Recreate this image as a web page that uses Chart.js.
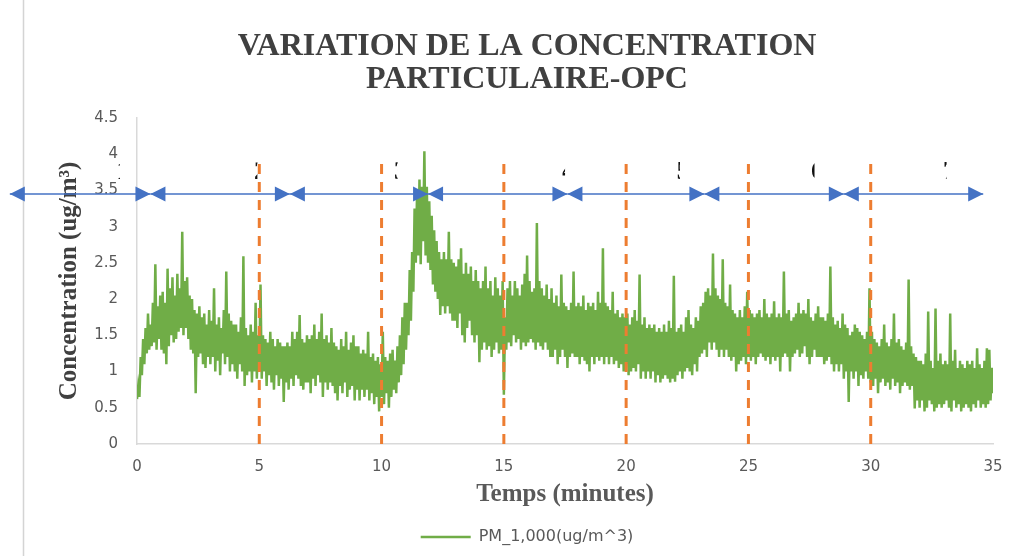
<!DOCTYPE html>
<html>
<head>
<meta charset="utf-8">
<script src="https://cdn.jsdelivr.net/npm/chart.js@4"></script>
<style>
  html, body { margin: 0; padding: 0; background: #fff; }
</style>
</head>
<body>
<canvas id="pmChart" width="1019" height="556"></canvas>
<script>
const sampleStep = 0.05;
const pm1 = [
  0.62, 0.8, 0.65, 1.2, 0.95, 1.45, 1.1, 1.6, 1.25, 1.8, 1.3, 1.65, 1.35, 1.95, 1.4, 2.48, 1.3, 1.9, 1.45, 2.05,
  1.3, 2.1, 1.25, 1.95, 1.1, 2.42, 1.35, 2.15, 1.5, 2.3, 1.4, 2.05, 1.45, 2.35, 1.55, 2.15, 1.6, 2.93, 1.5, 2.25,
  1.6, 2.3, 1.45, 2.05, 1.3, 2.0, 1.25, 1.85, 0.7, 1.8, 1.2, 1.9, 1.25, 1.75, 1.1, 1.8, 1.05, 1.65, 1.2, 1.85,
  1.1, 1.7, 1.2, 2.15, 1.0, 1.65, 1.15, 1.75, 0.95, 1.6, 1.25, 1.85, 1.1, 2.38, 1.2, 1.8, 1.0, 1.7, 1.1, 1.65,
  1.0, 1.65, 0.9, 1.55, 1.1, 1.75, 1.0, 2.59, 0.8, 1.6, 0.95, 1.5, 1.0, 1.65, 0.85, 1.55, 1.0, 1.95, 0.9, 1.5,
  1.0, 2.2, 0.9, 1.5, 1.0, 1.45, 0.8, 1.4, 0.95, 1.55, 0.85, 1.45, 0.75, 1.35, 0.95, 1.45, 0.8, 1.4, 0.9, 1.35,
  0.58, 1.35, 0.85, 1.4, 0.75, 1.35, 0.9, 1.55, 0.8, 1.45, 0.95, 1.55, 0.9, 1.78, 0.8, 1.45, 0.75, 1.4, 0.85, 1.5,
  0.85, 1.45, 0.7, 1.5, 0.9, 1.65, 0.8, 1.45, 0.95, 1.55, 0.85, 1.8, 0.65, 1.45, 0.85, 1.5, 0.75, 1.4, 0.85, 1.6,
  0.8, 1.4, 0.7, 1.35, 0.6, 1.3, 0.8, 1.45, 0.7, 1.35, 0.85, 1.55, 0.65, 1.3, 0.75, 1.4, 0.8, 1.5, 0.6, 1.35,
  0.75, 1.35, 0.6, 1.25, 0.75, 1.3, 0.65, 1.25, 0.75, 1.55, 0.6, 1.2, 0.7, 1.25, 0.55, 1.15, 0.65, 1.2, 0.45, 1.1,
  0.65, 1.55, 0.55, 1.2, 0.7, 1.15, 0.5, 1.25, 0.65, 1.3, 0.75, 1.15, 0.7, 1.35, 0.85, 1.5, 0.95, 1.75, 1.1, 1.95,
  1.3, 1.95, 1.5, 2.4, 1.7, 2.65, 2.1, 3.25, 2.5, 3.45, 2.6, 3.65, 2.48, 3.55, 2.8, 4.04, 2.6, 3.55, 2.5, 3.35,
  2.4, 3.15, 2.2, 2.95, 2.1, 2.8, 2.0, 2.65, 1.78, 2.55, 1.9, 2.65, 1.8, 2.55, 1.9, 2.93, 1.8, 2.55, 1.7, 2.5,
  1.7, 2.45, 1.6, 2.55, 1.8, 2.7, 1.5, 2.35, 1.4, 2.5, 1.6, 2.35, 1.7, 2.45, 1.5, 2.25, 1.4, 2.4, 1.5, 2.25,
  1.13, 2.15, 1.3, 2.25, 1.4, 2.45, 1.3, 2.15, 1.35, 2.25, 1.2, 2.05, 1.3, 2.3, 1.4, 2.15, 1.25, 2.05, 1.3, 2.25,
  0.68, 1.75, 1.3, 2.15, 1.4, 2.25, 1.35, 2.05, 1.5, 2.25, 1.4, 2.15, 1.45, 2.05, 1.3, 2.2, 1.4, 2.35, 1.35, 2.6,
  1.4, 2.25, 1.45, 2.1, 1.4, 2.15, 1.3, 3.05, 1.4, 2.25, 1.35, 2.15, 1.3, 2.05, 1.4, 2.2, 1.3, 2.0, 1.2, 2.15,
  1.2, 1.95, 1.3, 2.05, 1.1, 1.9, 1.2, 2.34, 1.3, 1.95, 1.2, 1.9, 1.05, 1.85, 1.2, 1.95, 1.25, 2.38, 1.2, 1.9,
  1.2, 1.95, 1.1, 1.9, 1.2, 2.05, 1.15, 1.85, 1.1, 1.95, 1.0, 1.9, 1.2, 1.95, 1.1, 1.85, 1.2, 2.1, 1.15, 1.95,
  1.2, 2.7, 1.1, 1.95, 1.2, 1.9, 1.1, 1.85, 1.2, 2.1, 1.1, 1.8, 1.15, 1.85, 1.05, 1.75, 1.1, 1.8, 1.0, 1.75,
  1.1, 1.8, 0.95, 1.65, 1.0, 1.75, 1.05, 1.85, 1.0, 1.7, 1.1, 2.34, 0.9, 1.65, 1.0, 1.75, 0.9, 1.6, 1.0, 1.65,
  0.9, 1.6, 1.0, 1.65, 0.85, 1.55, 0.95, 1.6, 0.85, 1.55, 0.9, 1.65, 0.95, 1.55, 0.9, 1.7, 0.85, 1.6, 0.9, 2.32,
  0.86, 1.55, 0.95, 1.6, 1.0, 1.65, 0.9, 1.55, 1.0, 1.75, 1.05, 1.85, 1.0, 1.65, 0.95, 1.6, 1.1, 1.75, 1.0, 1.7,
  1.2, 1.9, 1.25, 1.95, 1.3, 2.1, 1.2, 2.15, 1.4, 2.05, 1.3, 2.63, 1.4, 2.15, 1.3, 2.05, 1.2, 2.0, 1.3, 2.55,
  1.2, 1.95, 1.3, 1.9, 1.2, 2.2, 1.15, 1.85, 1.2, 1.8, 1.0, 1.75, 1.1, 1.85, 1.15, 1.75, 1.2, 1.9, 1.1, 2.1,
  1.2, 1.85, 1.15, 1.8, 1.2, 1.75, 1.1, 1.8, 1.2, 1.85, 1.25, 1.75, 1.2, 2.0, 1.15, 1.8, 1.2, 1.75, 1.1, 1.8,
  1.2, 1.97, 1.15, 1.75, 1.2, 1.8, 1.0, 1.75, 1.2, 2.38, 1.25, 1.8, 1.2, 1.85, 1.0, 1.7, 1.2, 1.75, 1.25, 1.8,
  1.3, 1.95, 1.2, 1.8, 1.25, 1.85, 1.35, 1.8, 1.2, 2.0, 1.1, 1.75, 1.2, 1.7, 1.3, 1.8, 1.2, 1.9, 1.2, 1.75,
  1.2, 1.75, 1.1, 1.7, 1.15, 1.8, 1.2, 2.45, 1.1, 1.75, 1.0, 1.65, 1.1, 1.7, 1.0, 1.6, 1.1, 1.8, 0.9, 1.65,
  1.0, 1.6, 0.58, 1.5, 1.0, 1.55, 0.9, 1.65, 1.0, 1.6, 0.8, 1.55, 0.95, 1.5, 0.9, 1.45, 1.0, 1.55, 0.9, 2.15,
  0.85, 1.55, 0.8, 1.45, 0.9, 1.4, 0.7, 1.35, 0.85, 1.45, 0.9, 1.65, 0.8, 1.4, 0.85, 1.35, 0.75, 1.45, 0.9, 1.8,
  0.8, 1.4, 0.85, 1.45, 0.7, 1.35, 0.8, 1.3, 0.85, 1.4, 0.8, 2.27, 0.75, 1.35, 0.8, 1.25, 0.49, 1.2, 0.6, 1.15,
  0.5, 1.15, 0.6, 1.1, 0.45, 1.25, 0.5, 1.83, 0.6, 1.15, 0.55, 1.05, 0.45, 1.87, 0.5, 1.15, 0.55, 1.25, 0.5, 1.1,
  0.55, 1.15, 0.6, 1.1, 0.5, 1.8, 0.45, 1.15, 0.6, 1.3, 0.5, 1.05, 0.55, 1.15, 0.45, 1.1, 0.5, 1.05, 0.55, 1.15,
  0.5, 1.1, 0.45, 1.15, 0.55, 1.05, 0.5, 1.32, 0.6, 1.1, 0.5, 1.05, 0.55, 1.15, 0.5, 1.32, 0.55, 1.3, 0.6, 1.05,
  0.7
];

// phase markers
const phaseBreaks = [5, 10, 15, 20, 25, 30];   // orange dashed lines (minutes)
const breakTop = 3.97;
const arrowBounds = [-5.2, 0.55, 6.25, 11.9, 17.6, 23.2, 28.9, 34.6];
const arrowLevel = 3.45;
const phaseNames = ['1', '2', '3', '4', '5', '6', '7'];
const phaseNameX = [-0.8, 4.82, 10.55, 17.4, 22.1, 27.6, 33.0];
const phaseNameY = 3.75;

const points = pm1.map((v, i) => ({ x: i * sampleStep, y: v }));

const serif = 'Liberation Serif';
const sans = 'DejaVu Sans';

// frame line on the left of the original picture
const framePlugin = {
  id: 'frame',
  beforeDraw(chart) {
    const ctx = chart.ctx;
    ctx.save();
    ctx.strokeStyle = '#d4d4d4';
    ctx.lineWidth = 1.5;
    ctx.beginPath();
    ctx.moveTo(23.5, 0);
    ctx.lineTo(23.5, chart.height);
    ctx.stroke();
    ctx.restore();
  }
};

// dashed phase boundaries, double arrows and the (mostly hidden) phase numbers
const phasePlugin = {
  id: 'phases',
  afterDatasetsDraw(chart) {
    const ctx = chart.ctx;
    const xs = chart.scales.x;
    const ys = chart.scales.y;
    ctx.save();

    ctx.strokeStyle = '#ED7D31';
    ctx.lineWidth = 3;
    ctx.setLineDash([10, 8]);
    phaseBreaks.forEach((b) => {
      const px = xs.getPixelForValue(b);
      ctx.beginPath();
      ctx.moveTo(px, ys.getPixelForValue(0));
      ctx.lineTo(px, ys.getPixelForValue(breakTop));
      ctx.stroke();
    });
    ctx.setLineDash([]);

    const ay = ys.getPixelForValue(arrowLevel);
    ctx.strokeStyle = '#4472C4';
    ctx.fillStyle = '#4472C4';
    ctx.lineWidth = 1.5;
    const head = 15, half = 7.5;
    for (let i = 0; i < arrowBounds.length - 1; i++) {
      const x0 = xs.getPixelForValue(arrowBounds[i]);
      const x1 = xs.getPixelForValue(arrowBounds[i + 1]);
      ctx.beginPath();
      ctx.moveTo(x0, ay);
      ctx.lineTo(x1, ay);
      ctx.stroke();
      ctx.beginPath();
      ctx.moveTo(x0, ay);
      ctx.lineTo(x0 + head, ay - half);
      ctx.lineTo(x0 + head, ay + half);
      ctx.closePath();
      ctx.fill();
      ctx.beginPath();
      ctx.moveTo(x1, ay);
      ctx.lineTo(x1 - head, ay - half);
      ctx.lineTo(x1 - head, ay + half);
      ctx.closePath();
      ctx.fill();
    }

    // only a sliver of each phase number shows in the original
    ctx.fillStyle = '#111';
    ctx.font = 'bold 26px ' + serif;
    ctx.textAlign = 'left';
    ctx.textBaseline = 'middle';
    phaseNames.forEach((n, i) => {
      const px = xs.getPixelForValue(phaseNameX[i]);
      const py = ys.getPixelForValue(phaseNameY);
      ctx.save();
      ctx.beginPath();
      ctx.rect(px, py - 16, 2.5, 32);
      ctx.clip();
      ctx.fillText(n, px - 1, py);
      ctx.restore();
    });

    ctx.restore();
  }
};

const ctx = document.getElementById('pmChart').getContext('2d');

new Chart(ctx, {
  type: 'line',
  data: {
    datasets: [
      {
        label: 'PM_1,000(ug/m^3)',
        data: points,
        borderColor: '#70AD47',
        backgroundColor: '#70AD47',
        borderWidth: 2.5,
        pointRadius: 0,
        tension: 0,
        fill: false
      }
    ]
  },
  options: {
    responsive: false,
    devicePixelRatio: 1,
    animation: false,
    layout: {
      padding: { left: 40, right: 5, top: 30, bottom: 1 }
    },
    plugins: {
      title: {
        display: true,
        text: ['VARIATION DE LA CONCENTRATION', 'PARTICULAIRE-OPC'],
        color: '#404040',
        font: { family: serif, size: 32, weight: 'bold', lineHeight: 1.03 },
        padding: { top: 0, bottom: 22 }
      },
      legend: {
        position: 'bottom',
        labels: {
          usePointStyle: true,
          pointStyle: 'line',
          pointStyleWidth: 50,
          color: '#595959',
          font: { family: sans, size: 16 },
          padding: 8
        }
      },
      tooltip: { enabled: false }
    },
    scales: {
      x: {
        type: 'linear',
        min: 0,
        max: 35,
        grid: { display: false, drawTicks: false },
        border: { display: true, color: '#d9d9d9', width: 1.5 },
        ticks: {
          stepSize: 5,
          padding: 14,
          color: '#595959',
          font: { family: sans, size: 15 },
          callback: (v) => String(v)
        },
        title: {
          display: true,
          text: 'Temps (minutes)',
          color: '#595959',
          font: { family: serif, size: 25, weight: 'bold' },
          padding: { top: 0, bottom: 11 }
        },
        afterFit: (s) => { s.height = 77; }
      },
      y: {
        min: 0,
        max: 4.5,
        grid: { display: false, drawTicks: false },
        border: { display: true, color: '#d9d9d9', width: 1.5 },
        ticks: {
          stepSize: 0.5,
          padding: 19,
          color: '#595959',
          font: { family: sans, size: 15 },
          callback: (v) => String(v)
        },
        title: {
          display: true,
          text: 'Concentration (ug/m³)',
          color: '#404040',
          font: { family: serif, size: 25, weight: 'bold' },
          padding: { top: 15, bottom: 0 }
        },
        afterFit: (s) => { s.width = 97; }
      },
      yRight: {
        position: 'right',
        display: true,
        grid: { display: false, drawTicks: false },
        border: { display: false },
        ticks: { display: false },
        afterFit: (s) => { s.width = 21; }
      }
    }
  },
  plugins: [framePlugin, phasePlugin]
});
</script>
</body>
</html>
